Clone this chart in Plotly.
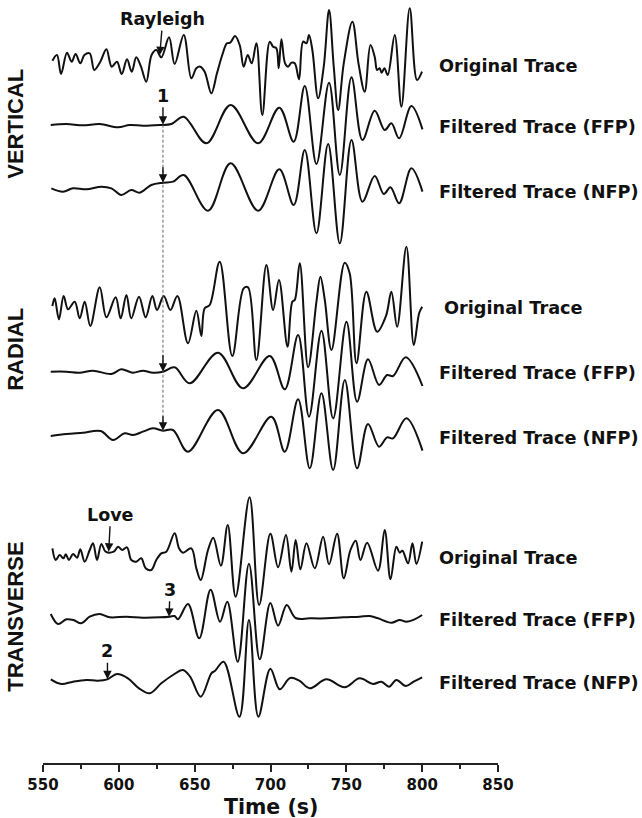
import numpy as np
import plotly.graph_objects as go

# ---------------- data (time in s, amplitude in arbitrary counts) ----------------
V_ORIG_T = [556.2, 559.2, 561.9, 565.8, 568.9, 571.5, 574.6, 577.3, 580.8, 583.8, 587.8, 591.8, 595.3,
            598.8, 601.9, 605.4, 608.5, 611.5, 614.6, 618.1, 621.6, 624.7, 628.0, 633.1, 636.8, 642.8,
            647.8, 651.1, 653.7, 656.6, 661.0, 664.7, 668.2, 671.3, 673.5, 676.6, 679.7, 682.3, 685.0,
            687.6, 690.7, 694.6, 699.5, 701.7, 703.9, 705.4, 707.2, 709.6, 711.6, 713.8, 716.0, 718.8,
            721.5, 723.7, 725.4, 727.6, 731.4, 735.1, 738.6, 741.7, 744.6, 748.3, 754.0, 758.0, 762.1,
            765.9, 768.7, 770.3, 772.0, 773.3, 775.1, 777.3, 781.9, 786.3, 791.8, 796.6, 799.9]
V_ORIG_A = [3, 20, -37, 27, 0, 23, -5, 20, 25, -25, 0, 37, -15,
            0, -37, 7, -30, 13, -15, -60, 20, 35, 13, 73, -7, 80,
            -50, -20, -15, -30, -95, -35, 20, 55, 57, 77, 50, -15, 20,
            -5, 55, -160, 60, 45, 40, -20, 67, -5, -15, -3, -5, -53,
            60, 55, 80, 35, -110, -15, 155, -15, -145, -5, 120, -5, -90,
            50, 15, -25, -20, -33, -20, -40, 80, -135, 160, -55, -30]

V_FFP_T = [555.1, 565.4, 576.4, 587.4, 599.5, 607.1, 615.9, 626.9, 634.6, 642.8, 657.7, 673.7, 691.8,
           705.8, 715.3, 722.6, 730.3, 738.6, 745.7, 753.4, 760.6, 768.7, 775.3, 779.7, 784.8, 792.9, 800.2]
V_FFP_A = [0, 3, -1, 3, -7, 0, -2, 0, 3, 25, -55, 60, -55,
           52, -50, 117, -117, 127, -150, 143, -45, 43, -15, 5, -40, 57, -13]

V_NFP_T = [555.5, 563.2, 569.8, 578.6, 588.5, 595.1, 601.6, 608.2, 613.7, 621.4, 629.1, 635.7, 642.8,
           658.8, 673.7, 691.8, 705.8, 715.3, 722.6, 730.3, 738.0, 745.7, 753.4, 760.6, 768.7, 774.7,
           779.1, 784.8, 792.9, 800.2]
V_NFP_A = [5, -5, 5, 2, 10, 5, -15, 0, -8, 15, 22, 25, 45,
           -62, 80, -62, 62, -45, 120, -130, 138, -160, 150, -35, 42, -12,
           8, -40, 65, -5]

R_ORIG_T = [556.2, 557.7, 560.5, 563.6, 566.5, 570.9, 574.2, 577.5, 581.2, 587.4, 591.8, 597.9, 601.2,
            605.0, 608.2, 613.3, 617.7, 622.1, 625.2, 629.6, 634.0, 638.6, 645.6, 651.1, 654.4, 656.6,
            659.9, 666.5, 674.8, 682.3, 685.2, 690.7, 697.3, 701.7, 705.6, 711.2, 714.4, 716.0, 719.3,
            724.8, 730.3, 732.9, 735.8, 740.2, 748.9, 752.2, 756.7, 763.2, 770.3, 776.2, 779.7, 783.5,
            789.6, 794.5, 798.0, 800.0]
R_ORIG_A = [2, 25, -38, 32, -8, 15, -35, 15, -58, 58, -32, 28, -35,
            35, -35, 30, -32, 32, -10, 32, -10, 32, -110, -12, -88, -5,
            5, 135, -148, 55, 58, -160, 125, -10, 80, -120, 15, 20, 130,
            -182, 15, 90, 20, -130, 132, 100, -170, 45, -75, -27, 45, -60,
            180, -115, -20, 0]

R_FFP_T = [555.1, 565.4, 574.0, 583.0, 595.1, 601.6, 609.3, 615.9, 622.5, 629.1, 636.8, 646.7, 665.4,
           681.9, 699.5, 709.4, 718.2, 725.4, 733.6, 741.3, 750.1, 757.1, 764.3, 771.6, 776.9, 780.8,
           789.2, 800.2]
R_FFP_A = [0, 0, -3, 3, -7, 7, -3, 3, -3, 0, 13, -35, 57,
           -50, 47, -53, 110, -135, 123, -140, 150, -90, 37, -40, -10, -13,
           43, -43]

R_NFP_T = [555.1, 565.4, 576.4, 588.0, 596.2, 603.8, 609.3, 615.9, 622.5, 629.1, 635.7, 645.6, 665.4,
           681.9, 700.6, 709.4, 718.2, 725.9, 733.6, 741.3, 749.0, 757.1, 764.3, 771.6, 776.9, 780.8,
           789.6, 800.2]
R_NFP_A = [-13, -7, -3, 2, -25, -5, -10, 0, 10, 3, 5, -60, 65,
           -65, 45, -60, 97, -110, 115, -115, 155, -110, 23, -45, -17, -20,
           40, -57]

T_ORIG_T = [556.2, 558.4, 561.0, 563.5, 565.0, 567.1, 569.8, 572.5, 574.6, 577.5, 580.8, 583.0, 585.6,
            588.5, 591.3, 596.6, 599.5, 602.3, 605.4, 608.2, 611.5, 614.8, 617.7, 621.4, 624.7, 628.0,
            631.3, 636.8, 639.7, 642.3, 647.8, 651.1, 654.0, 658.8, 662.3, 667.3, 671.8, 677.0, 686.2,
            692.5, 699.9, 705.0, 710.2, 713.8, 716.6, 719.7, 723.7, 729.2, 734.7, 738.6, 743.9, 748.3,
            752.7, 756.2, 759.3, 763.7, 770.9, 775.3, 779.1, 783.0, 785.2, 787.0, 790.7, 793.6, 796.2,
            800.0]
T_ORIG_A = [20, -15, 0, -10, 2, -15, 3, -8, 17, -20, 15, 35, -15,
            33, 10, 10, 25, 15, 23, -15, -20, -10, -40, -45, -15, 5,
            10, 65, 20, 7, 20, -40, -75, 15, 52, -32, 90, -125, 173,
            -150, 64, -37, 60, -50, 45, -43, 35, -40, 55, -28, 64, -70,
            15, 43, -15, 37, -47, 75, -73, 25, 7, 13, -25, 35, -27,
            40]

T_FFP_T = [555.1, 559.9, 565.4, 570.0, 575.3, 580.8, 587.4, 594.0, 605.0, 615.9, 627.0, 633.5, 636.8,
           639.0, 645.6, 653.0, 660.5, 666.7, 671.5, 678.4, 685.8, 692.9, 699.9, 705.0, 710.7, 716.5,
           725.9, 736.9, 747.9, 758.8, 765.4, 770.9, 779.7, 785.2, 789.6, 795.0, 800.0]
T_FFP_A = [8, -22, -8, -10, -20, 0, 8, -2, 0, -3, -2, 0, 2,
           -8, 38, -65, 81, -15, 45, -135, 159, -128, 41, -27, 35, -4,
           -5, -5, -2, 0, 2, -5, -18, -10, -15, -8, 5]

T_NFP_T = [555.1, 562.1, 569.8, 578.6, 586.0, 592.4, 598.8, 606.0, 613.3, 620.3, 628.0, 635.7, 642.3,
           647.0, 654.0, 661.0, 663.5, 669.1, 679.5, 685.8, 692.0, 699.9, 706.1, 712.9, 719.0, 725.9,
           736.9, 748.9, 758.8, 767.6, 773.1, 778.2, 783.0, 789.2, 794.4, 800.0]
T_NFP_A = [2, -12, -5, 0, -2, 2, 18, 5, -25, -40, -10, 15, 30,
           10, -50, 20, 28, 55, -110, 180, -110, 34, -28, 6, -2, -25,
           2, -22, 5, -12, -5, -20, 0, -18, -5, 8]

TRACE_LABELS = ["Original Trace", "Filtered Trace (FFP)", "Filtered Trace (NFP)"] * 3
COMPONENTS = ["VERTICAL", "RADIAL", "TRANSVERSE"]
X_TICKS = [550, 600, 650, 700, 750, 800, 850]
X_TITLE = "Time (s)"

# picks: (trace index, time of pick, text)
PICKS = [(0, 627.0, "Rayleigh"), (1, 629.1, "1"), (2, 629.1, ""), (4, 629.1, ""), (5, 629.1, ""),
         (6, 593.3, "Love"), (7, 633.1, "3"), (8, 592.5, "2")]

# ---------------- layout parameters ----------------
TRACES = [(V_ORIG_T, V_ORIG_A), (V_FFP_T, V_FFP_A), (V_NFP_T, V_NFP_A),
          (R_ORIG_T, R_ORIG_A), (R_FFP_T, R_FFP_A), (R_NFP_T, R_NFP_A),
          (T_ORIG_T, T_ORIG_A), (T_FFP_T, T_FFP_A), (T_NFP_T, T_NFP_A)]
OFFSETS = [-185, -375, -570, -920, -1115, -1295, -1665, -1850, -2040]
LABEL_Y = [-199, -382, -575, -925, -1120, -1315, -1675, -1860, -2050]
LABEL_X = [809.6, 809.6, 809.6, 813.4, 809.6, 809.6, 809.6, 809.6, 809.6]
COMP_Y = [-372, -1047, -1851]
PICK_AY = [-36, -29, -17, -18, -16, -37, -27, -28]
PICK_AX = [3, 0, 0, 0, 0, 2, 1, 0]

for t, a in TRACES:
    assert len(t) == len(a)

BOLD = "DejaVu Sans"
fig = go.Figure()
for (t, a), off in zip(TRACES, OFFSETS):
    fig.add_trace(go.Scatter(x=t, y=np.array(a) + off, mode="lines",
                             line=dict(color="#111111", width=2.0, shape="spline", smoothing=1.0),
                             hoverinfo="skip", showlegend=False))

ann = []
for lab, lx, ly in zip(TRACE_LABELS, LABEL_X, LABEL_Y):
    ann.append(dict(x=lx, y=ly, xref="x", yref="y", text=lab, showarrow=False, xanchor="left",
                    yanchor="middle", font=dict(family=BOLD, size=17.7, color="#111", weight="bold")))
for comp, cy in zip(COMPONENTS, COMP_Y):
    ann.append(dict(x=-0.062, y=cy, xref="paper", yref="y", text=comp, showarrow=False, textangle=-90,
                    xanchor="center", yanchor="middle",
                    font=dict(family="Liberation Sans, Arial", size=22, color="#111", weight="bold")))
for (idx, tp, txt), ay, ax in zip(PICKS, PICK_AY, PICK_AX):
    t, a = TRACES[idx]
    yp = OFFSETS[idx] + float(np.interp(tp, t, a))
    ann.append(dict(x=tp, y=yp, xref="x", yref="y", text=txt, showarrow=True, ax=ax, ay=ay,
                    arrowhead=2, arrowsize=1.2, arrowwidth=1.4, arrowcolor="#111",
                    font=dict(family=BOLD, size=17.5, color="#111", weight="bold")))
ann.append(dict(x=700, y=0, xref="x", yref="paper", text=X_TITLE, showarrow=False, yanchor="middle",
                yshift=-44, font=dict(family=BOLD, size=20.5, color="#111", weight="bold")))

# dashed guide line through pick "1"
y_top = OFFSETS[1] + float(np.interp(629.1, V_FFP_T, V_FFP_A))
y_bot = OFFSETS[5] + float(np.interp(629.1, R_NFP_T, R_NFP_A))
shapes = [dict(type="line", xref="x", yref="y", x0=629.1, x1=629.1, y0=y_top, y1=y_bot,
               line=dict(color="#666", width=1, dash="3px,2px"))]

fig.update_layout(
    width=642, height=818, margin=dict(l=43, r=144, t=0, b=55),
    paper_bgcolor="white", plot_bgcolor="white",
    annotations=ann, shapes=shapes,
    xaxis=dict(range=[550, 850], tickvals=X_TICKS, ticks="outside", ticklen=7, tickwidth=2,
               tickcolor="#222", showline=True, linewidth=2, linecolor="#222", showgrid=False,
               zeroline=False, tickfont=dict(family=BOLD, size=15, color="#111", weight="bold"),
               minor=dict(ticks="outside", ticklen=4, tickwidth=2, tickcolor="#222", dtick=25,
                          tick0=550, showgrid=False)),
    yaxis=dict(range=[-2289, 0], visible=False, showgrid=False, zeroline=False),
)
fig.write_html("out.html")
